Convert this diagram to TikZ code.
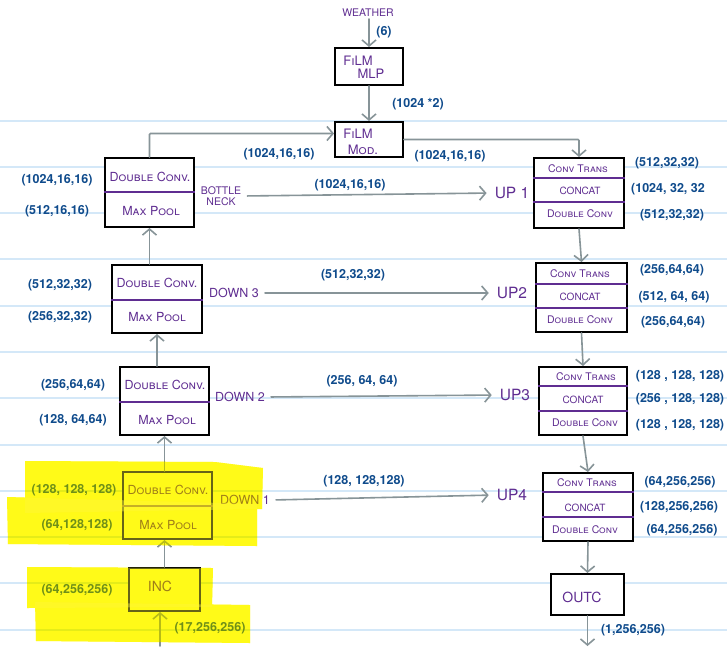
\documentclass[tikz,border=0pt]{standalone}
\usepackage{fontspec}
\setmainfont{TeX Gyre Heros}
\usetikzlibrary{arrows.meta}

\definecolor{ink}{RGB}{95,45,145}
\definecolor{dimink}{RGB}{15,75,140}
\definecolor{wire}{RGB}{135,148,152}
\definecolor{paperblue}{RGB}{212,232,248}
\definecolor{hilite}{RGB}{255,250,0}
\definecolor{hilitetop}{RGB}{255,250,60}

\tikzset{
  paperline/.style={draw=paperblue, line width=1.4pt},
  block/.style={draw=black, line width=2pt, fill=white, inner sep=0pt},
  divider/.style={draw=ink, line width=1.3pt},
  boxtxt/.style={text=ink, font=\fontsize{12.5}{13}\selectfont\scshape, inner sep=1pt},
  subtxt/.style={text=ink, font=\fontsize{10.5}{11}\selectfont\scshape, inner sep=1pt},
  cattxt/.style={text=ink, font=\fontsize{10}{11}\selectfont, inner sep=1pt},
  tagtxt/.style={text=ink, font=\fontsize{12.5}{13}\selectfont, inner sep=2pt},
  uptxt/.style={text=ink, font=\fontsize{15.5}{16}\selectfont, inner sep=2pt},
  dimtxt/.style={text=dimink, font=\fontsize{12.5}{13}\selectfont\bfseries, inner sep=1pt},
  arr/.style={draw=wire, line width=1.6pt, line cap=round,
    -{Straight Barb[length=6pt,width=14pt]}},
  marker/.style={fill=hilite, blend mode=multiply},
  markertop/.style={fill=hilitetop, fill opacity=0.4},
}

\begin{document}
\begin{tikzpicture}[x=1pt, y=-1pt]
\useasboundingbox (0,0) rectangle (727,648);
\fill[white] (0,0) rectangle (727,648);

% ruled paper
\foreach \yy in {121,167,213,259,306,352,398,445,491,537,583,630}
  \draw[paperline] (0,\yy) -- (727,\yy);

% ---------- FiLM conditioning ----------
\node[text=ink, font=\fontsize{10.5}{11}\selectfont, inner sep=2pt] (weather) at (368,13) {WEATHER};
\node[block, minimum width=68pt, minimum height=37pt] (mlp) at (369,66.5) {};
\node[boxtxt, font=\fontsize{13}{14}\selectfont\scshape] (mlpA) at (358,61) {FiLM};
\node[boxtxt, font=\fontsize{13}{14}\selectfont\scshape] (mlpB) at (371,74) {MLP};
\node[block, minimum width=68pt, minimum height=35pt] (mod) at (369,139.5) {};
\node[boxtxt, font=\fontsize{13}{14}\selectfont\scshape] (modA) at (358,134) {FiLM};
\node[boxtxt, font=\fontsize{13}{14}\selectfont\scshape] (modB) at (363,150) {Mod.};

\node[dimtxt] (dimW) at (384,32) {(6)};
\node[dimtxt] (dimMLP) at (418,104) {(1024 *2)};
\node[dimtxt] (dimModIn) at (279,154) {(1024,16,16)};
\node[dimtxt] (dimModOut) at (450,156) {(1024,16,16)};

% ---------- encoder ----------
\node[block, minimum width=89pt, minimum height=69pt] (bn) at (149.5,192.5) {};
\node[boxtxt] (bnA) at (150,177) {Double Conv.};
\node[boxtxt] (bnB) at (151,211) {Max Pool};
\draw[divider] (bn.west |- 0,192) -- (bn.east |- 0,192);

\node[block, minimum width=90pt, minimum height=68pt] (d3) at (157,299) {};
\node[boxtxt] (d3A) at (157,283) {Double Conv.};
\node[boxtxt] (d3B) at (157,317) {Max Pool};
\draw[divider] (d3.west |- 0,300) -- (d3.east |- 0,300);

\node[block, minimum width=89pt, minimum height=68pt] (d2) at (164.5,401) {};
\node[boxtxt] (d2A) at (165,385) {Double Conv.};
\node[boxtxt] (d2B) at (167,420) {Max Pool};
\draw[divider] (d2.west |- 0,402) -- (d2.east |- 0,402);

\node[block, minimum width=89pt, minimum height=67pt] (d1) at (167.5,505.5) {};
\node[boxtxt] (d1A) at (168,490) {Double Conv.};
\node[boxtxt] (d1B) at (168,525) {Max Pool};
\draw[divider] (d1.west |- 0,506) -- (d1.east |- 0,506);

\node[block, minimum width=71pt, minimum height=43pt] (inc) at (164.5,589.5) {};
\node[boxtxt, font=\fontsize{14}{15}\selectfont] (incA) at (160,586) {INC};

% encoder tensor shapes
\node[dimtxt] (bnIn) at (57,180) {(1024,16,16)};
\node[dimtxt] (bnOut) at (57,211) {(512,16,16)};
\node[dimtxt] (d3In) at (60,285) {(512,32,32)};
\node[dimtxt] (d3Out) at (60,317) {(256,32,32)};
\node[dimtxt] (d2In) at (73,385) {(256,64,64)};
\node[dimtxt] (d2Out) at (73,420) {(128, 64,64)};
\node[dimtxt] (d1In) at (74,490) {(128, 128, 128)};
\node[dimtxt] (d1Out) at (77,525) {(64,128,128)};
\node[dimtxt] (incOut) at (77,590) {(64,256,256)};
\node[dimtxt] (incIn) at (210,628) {(17,256,256)};

% stage names
\node[tagtxt, align=center, font=\fontsize{10.5}{11.5}\selectfont] (bnlab) at (221,196) {BOTTLE\\NECK};
\node[tagtxt] (d3lab) at (234,293) {DOWN 3};
\node[tagtxt] (d2lab) at (240,397) {DOWN 2};
\node[tagtxt] (d1lab) at (245,500) {DOWN 1};

% ---------- decoder ----------
\node[block, minimum width=90pt, minimum height=70pt] (up1) at (579,193) {};
\node[subtxt] (up1A) at (578,169) {Conv Trans};
\node[cattxt] (up1B) at (580,191) {CONCAT};
\node[subtxt] (up1C) at (580,214) {Double Conv};
\draw[divider] (up1.west |- 0,178) -- (up1.east |- 0,178);
\draw[divider] (up1.west |- 0,202) -- (up1.east |- 0,202);

\node[block, minimum width=91pt, minimum height=69pt] (up2) at (581.5,297.5) {};
\node[subtxt] (up2A) at (580,274) {Conv Trans};
\node[cattxt] (up2B) at (580,297) {CONCAT};
\node[subtxt] (up2C) at (580,320) {Double Conv};
\draw[divider] (up2.west |- 0,284) -- (up2.east |- 0,284);
\draw[divider] (up2.west |- 0,308) -- (up2.east |- 0,308);

\node[block, minimum width=88pt, minimum height=68pt] (up3) at (583,401) {};
\node[subtxt] (up3A) at (586,377) {Conv Trans};
\node[cattxt] (up3B) at (583,400) {CONCAT};
\node[subtxt] (up3C) at (585,423) {Double Conv};
\draw[divider] (up3.west |- 0,386) -- (up3.east |- 0,386);
\draw[divider] (up3.west |- 0,411) -- (up3.east |- 0,411);

\node[block, minimum width=90pt, minimum height=68pt] (up4) at (588,507) {};
\node[subtxt] (up4A) at (587,483) {Conv Trans};
\node[cattxt] (up4B) at (585,508) {CONCAT};
\node[subtxt] (up4C) at (585,530) {Double Conv};
\draw[divider] (up4.west |- 0,492) -- (up4.east |- 0,492);
\draw[divider] (up4.west |- 0,517) -- (up4.east |- 0,517);

\node[block, minimum width=73pt, minimum height=41pt] (outc) at (587.5,594.5) {};
\node[boxtxt, font=\fontsize{14}{15}\selectfont] (outcA) at (582,597) {OUTC};

% decoder tensor shapes
\node[dimtxt] (up1a) at (667,163) {(512,32,32)};
\node[dimtxt] (up1b) at (668,189) {(1024, 32, 32};
\node[dimtxt] (up1c) at (672,215) {(512,32,32)};
\node[dimtxt] (up2a) at (672,270) {(256,64,64)};
\node[dimtxt] (up2b) at (674,297) {(512, 64, 64)};
\node[dimtxt] (up2c) at (673,322) {(256,64,64)};
\node[dimtxt] (up3a) at (680,376) {(128 , 128, 128)};
\node[dimtxt] (up3b) at (680,399) {(256 , 128, 128)};
\node[dimtxt] (up3c) at (680,425) {(128 , 128, 128)};
\node[dimtxt] (up4a) at (680,482) {(64,256,256)};
\node[dimtxt] (up4b) at (679,507) {(128,256,256)};
\node[dimtxt] (up4c) at (682,530) {(64,256,256)};
\node[dimtxt] (outDim) at (633,630) {(1,256,256)};

\node[uptxt] (up1lab) at (512,193) {UP 1};
\node[uptxt] (up2lab) at (512,293) {UP2};
\node[uptxt] (up3lab) at (515,395) {UP3};
\node[uptxt] (up4lab) at (512,495) {UP4};

% skip-connection shapes
\node[dimtxt] (skip1) at (350,185) {(1024,16,16)};
\node[dimtxt] (skip2) at (353,275) {(512,32,32)};
\node[dimtxt] (skip3) at (362,381) {(256, 64, 64)};
\node[dimtxt] (skip4) at (364,481) {(128, 128,128)};

% ---------- connectors ----------
\draw[arr] (weather.south -| mlp.north) -- (mlp.north);
\draw[arr] (mlp.south) -- (mod.north);
\draw[arr, rounded corners=1pt] (bn.north) |- ([yshift=6pt]mod.west);
\draw[arr, rounded corners=1pt] (mod.east) -| (up1.north);

\draw[arr, shorten <=4pt, shorten >=6pt] (bnlab.east) -- (up1lab.west);
\draw[arr, shorten <=4pt, shorten >=6pt] (d3lab.east) -- (up2lab.west);
\draw[arr, shorten <=4pt, shorten >=6pt] (d2lab.east) -- (up3lab.west);
\draw[arr, shorten <=4pt, shorten >=6pt] (d1lab.east) -- (up4lab.west);

\draw[arr] (d3.north -| bn.south) -- (bn.south);
\draw[arr] (d2.north -| d3.south) -- (d3.south);
\draw[arr] (d1.north -| d2.south) -- (d2.south);
\draw[arr] (inc.north) -- (inc.north |- d1.south);
\coordinate (src) at (160,646);
\draw[arr] (src) -- (src |- inc.south);

\draw[arr] (up1.south) -- (up2.north);
\draw[arr] (up2.south) -- (up3.north);
\draw[arr] (up3.south) -- (up4.north);
\draw[arr] (up4.south) -- (outc.north);
\coordinate (sink) at (585,646);
\draw[arr] (outc.south) -- (outc.south |- sink);

% ---------- highlighter strokes ----------
\begin{scope}
  \path[marker] (25,461) -- (215,462) -- (263,468) -- (262,509) -- (25,513) -- cycle;
  \path[marker] (7,497) -- (257,504) -- (257,546) -- (8,544) -- cycle;
  \path[marker] (27,567) -- (213,568) -- (212,607) -- (27,608) -- cycle;
  \path[marker] (35,602) -- (250,605) -- (250,643) -- (36,641) -- cycle;
  \path[markertop] (25,461) -- (215,462) -- (263,468) -- (262,509) -- (25,513) -- cycle;
  \path[markertop] (7,497) -- (257,504) -- (257,546) -- (8,544) -- cycle;
  \path[markertop] (27,567) -- (213,568) -- (212,607) -- (27,608) -- cycle;
  \path[markertop] (35,602) -- (250,605) -- (250,643) -- (36,641) -- cycle;
\end{scope}
\end{tikzpicture}
\end{document}
